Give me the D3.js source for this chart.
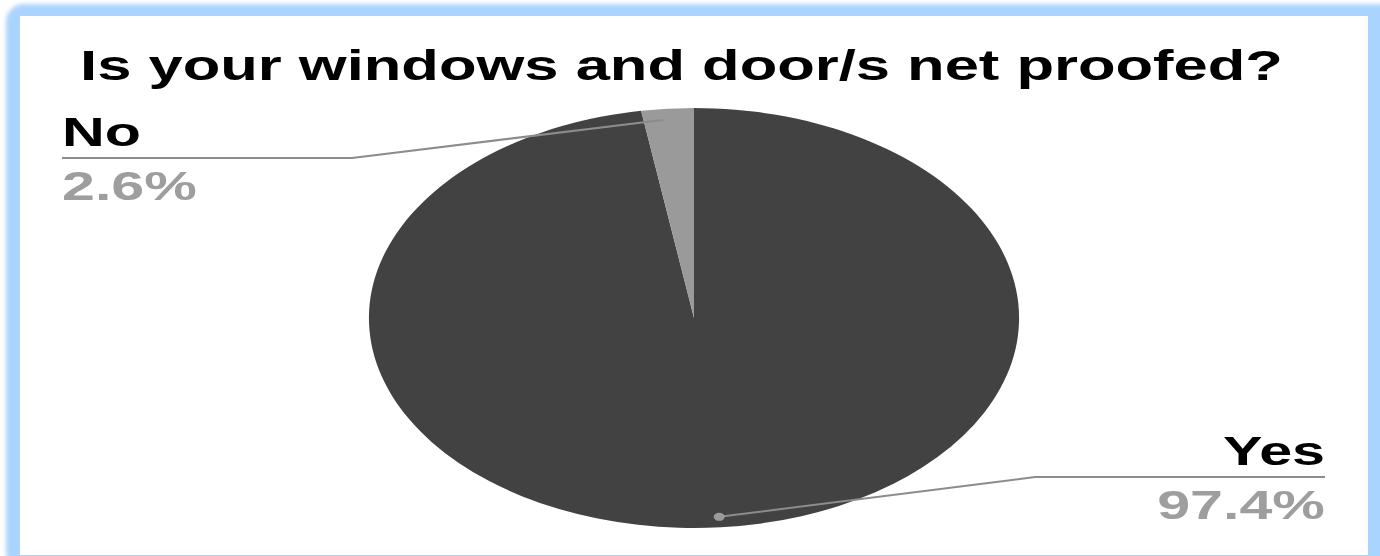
<!DOCTYPE html>
<html>
<head>
<meta charset="utf-8">
<script src="https://cdn.jsdelivr.net/npm/d3@7/dist/d3.min.js"></script>
<style>
  html, body { margin: 0; padding: 0; background: #fff; }
  svg { display: block; }
  text { font-family: "Liberation Sans", Arial, sans-serif; font-weight: bold; }
</style>
</head>
<body>
<svg id="chart" width="1380" height="556"></svg>
<script>
// Survey answers
const categories = ["Yes", "No"];
const values = [97.4, 2.6];
const colors = ["#424242", "#9a9a9a"];
const title = "Is your windows and door/s net proofed?";

const W = 1380, H = 556;
const svg = d3.select("#chart");

// Card frame with a soft blue glow
const defs = svg.append("defs");
defs.append("filter").attr("id", "glow")
  .attr("x", "-5%").attr("y", "-5%").attr("width", "110%").attr("height", "110%")
  .append("feGaussianBlur").attr("stdDeviation", 2.2);

svg.append("rect")
  .attr("x", 6).attr("y", 4).attr("width", W + 10).attr("height", H + 10)
  .attr("rx", 18).attr("fill", "#a9d4ff").attr("filter", "url(#glow)");
svg.append("rect")
  .attr("x", 20).attr("y", 16).attr("width", 1348).attr("height", 539)
  .attr("fill", "#ffffff");

// Horizontal stretch applied to the text
const textSX = 1.48;

function stretchedText(x, y, str, opts) {
  const g = svg.append("g").attr("transform", `translate(${x},${y}) scale(${opts.sx || textSX},1)`);
  return g.append("text")
    .attr("x", 0).attr("y", 0)
    .attr("text-anchor", opts.anchor || "start")
    .attr("font-size", opts.size)
    .attr("fill", opts.fill)
    .text(str);
}

stretchedText(681.5, 80, title, { anchor: "middle", size: 42, fill: "#000", sx: 1.465 });

// Pie (elliptical)
const cx = 694, cy = 318, R = 210, SX = 1.548;
const pie = d3.pie().sort(null).value(d => d)(values);
const arc = d3.arc().innerRadius(0).outerRadius(R);

const pieG = svg.append("g").attr("transform", `translate(${cx},${cy}) scale(${SX},1)`);
pieG.selectAll("path").data(pie).join("path")
  .attr("d", arc)
  .attr("fill", (d, i) => colors[i]);

// Labels and leader lines
const labels = [
  { i: 1, elbowX: 352, lineY: 158, endX: 62, anchor: "start", textX: 62, nameY: 146, pctY: 200 },
  { i: 0, elbowX: 1035, lineY: 477, endX: 1325, anchor: "end", textX: 1325, nameY: 465, pctY: 519 }
];

const fmt = d3.format(".1f");
labels.forEach(l => {
  const d = pie[l.i];
  const mid = (d.startAngle + d.endAngle) / 2;
  const r = R * 0.95;
  const px = cx + SX * r * Math.sin(mid);
  const py = cy - r * Math.cos(mid);

  svg.append("path")
    .attr("d", d3.line()([[px, py], [l.elbowX, l.lineY], [l.endX, l.lineY]]))
    .attr("fill", "none").attr("stroke", "#8c8c8c").attr("stroke-width", 2);
  svg.append("ellipse")
    .attr("cx", px).attr("cy", py).attr("rx", 5.5).attr("ry", 4)
    .attr("fill", "#9a9a9a");

  stretchedText(l.textX, l.nameY, categories[l.i], { anchor: l.anchor, size: 40, fill: "#000" });
  stretchedText(l.textX, l.pctY, fmt(values[l.i]) + "%", { anchor: l.anchor, size: 40, fill: "#9e9e9e" });
});
</script>
</body>
</html>
